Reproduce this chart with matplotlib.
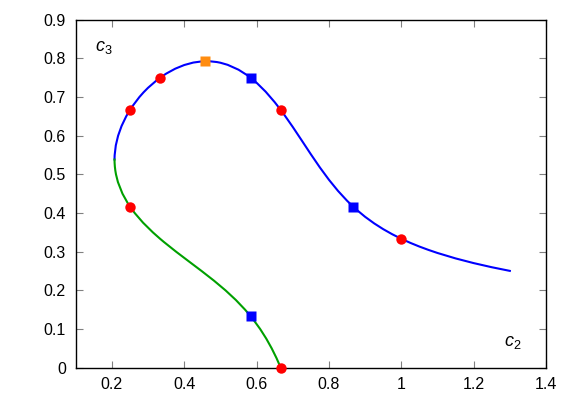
import matplotlib
matplotlib.use("Agg")
import matplotlib.pyplot as plt

plt.rcParams['font.family'] = ['Liberation Sans', 'DejaVu Sans']
plt.rcParams['mathtext.fontset'] = 'custom'
plt.rcParams['mathtext.it'] = 'Liberation Sans:italic'
plt.rcParams['mathtext.rm'] = 'Liberation Sans'

# upper (blue) branch of the curve, c2 and c3 values
blue_c2 = [0.2073, 0.20745, 0.20769, 0.21086, 0.21722, 0.22676, 0.23955, 0.25,
           0.25584, 0.27607, 0.2877, 0.30, 0.325, 0.33333, 0.35, 0.375, 0.40,
           0.425, 0.45, 0.4617, 0.47, 0.49, 0.50, 0.52, 0.55, 0.575, 0.58333,
           0.60, 0.625, 0.65, 0.66667, 0.675, 0.70, 0.725, 0.75, 0.775, 0.80,
           0.825, 0.85, 0.86667, 0.875, 0.90, 0.925, 0.95, 0.975, 1.00, 1.025,
           1.05, 1.075, 1.10, 1.15, 1.20, 1.25, 1.30]
blue_c3 = [0.5383, 0.545, 0.55, 0.575, 0.60, 0.625, 0.65, 0.66667,
           0.675, 0.70, 0.7123, 0.72393, 0.74416, 0.75, 0.76045, 0.77324, 0.78278,
           0.78914, 0.79231, 0.7927, 0.79249, 0.79050, 0.78868, 0.78329, 0.77069,
           0.75585, 0.75, 0.73692, 0.71384, 0.68676, 0.66667, 0.65608, 0.62257,
           0.58738, 0.55196, 0.51775, 0.48595, 0.45724, 0.43183, 0.41667, 0.40958,
           0.39016, 0.37319, 0.35827, 0.34508, 0.33333, 0.32279, 0.31326, 0.30461,
           0.29667, 0.28262, 0.27048, 0.25983, 0.25035]

# lower (green) branch
green_c2 = [0.2073, 0.20751, 0.20823, 0.20950, 0.21132, 0.21671, 0.22931, 0.24415,
            0.25, 0.26308, 0.28616, 0.31324, 0.33333, 0.34392, 0.37743, 0.41262,
            0.44804, 0.48225, 0.51405, 0.54276, 0.56817, 0.58333, 0.59042, 0.60984,
            0.62681, 0.64173, 0.65492, 0.66667]
green_c3 = [0.5383, 0.53, 0.52, 0.51, 0.50, 0.48, 0.45, 0.425,
            0.41667, 0.40, 0.375, 0.35, 0.33333, 0.325, 0.30, 0.275,
            0.25, 0.225, 0.20, 0.175, 0.15, 0.13333, 0.125, 0.10,
            0.075, 0.05, 0.025, 0.0]

# marked points
red_c2 = [0.25, 0.33333, 0.66667, 1.0, 0.25, 0.66667]
red_c3 = [0.66667, 0.75, 0.66667, 0.33333, 0.41667, 0.0]
sq_c2 = [0.58333, 0.86667, 0.58333]
sq_c3 = [0.75, 0.41667, 0.13333]
orange_c2 = [0.457]
orange_c3 = [0.793]

xticks = [0.2, 0.4, 0.6, 0.8, 1.0, 1.2, 1.4]
xticklabels = ['0.2', '0.4', '0.6', '0.8', '1', '1.2', '1.4']
yticks = [0, 0.1, 0.2, 0.3, 0.4, 0.5, 0.6, 0.7, 0.8, 0.9]
yticklabels = ['0', '0.1', '0.2', '0.3', '0.4', '0.5', '0.6', '0.7', '0.8', '0.9']

fig = plt.figure(figsize=(5.81, 4.07), dpi=100)
ax = fig.add_axes([0.1303, 0.0966, 0.8095, 0.855])

ax.plot(blue_c2, blue_c3, color='#0000ff', lw=1.5, zorder=2)
ax.plot(green_c2, green_c3, color='#00a000', lw=1.5, zorder=2)
ax.plot(red_c2, red_c3, 'o', color='#ff0000', ms=7.5, mec='none', zorder=3, clip_on=False)
ax.plot(sq_c2, sq_c3, 's', color='#0000ff', ms=7, mec='none', zorder=3)
ax.plot(orange_c2, orange_c3, 's', color='#ff8c10', ms=7, mec='none', zorder=3)

ax.set_xlim(0.1, 1.4)
ax.set_ylim(0, 0.9)
ax.set_xticks(xticks)
ax.set_xticklabels(xticklabels)
ax.set_yticks(yticks)
ax.set_yticklabels(yticklabels)
ax.tick_params(direction='in', top=True, right=True, length=5, width=0.8,
               color='#808080', labelsize=11.5, pad=7)
for s in ax.spines.values():
    s.set_linewidth(1.0)

ax.text(0.178, 0.827, r'$c_3$', fontsize=13, ha='center', va='center')
ax.text(1.309, 0.065, r'$c_2$', fontsize=13, ha='center', va='center')

fig.savefig('out.png', dpi=100)
